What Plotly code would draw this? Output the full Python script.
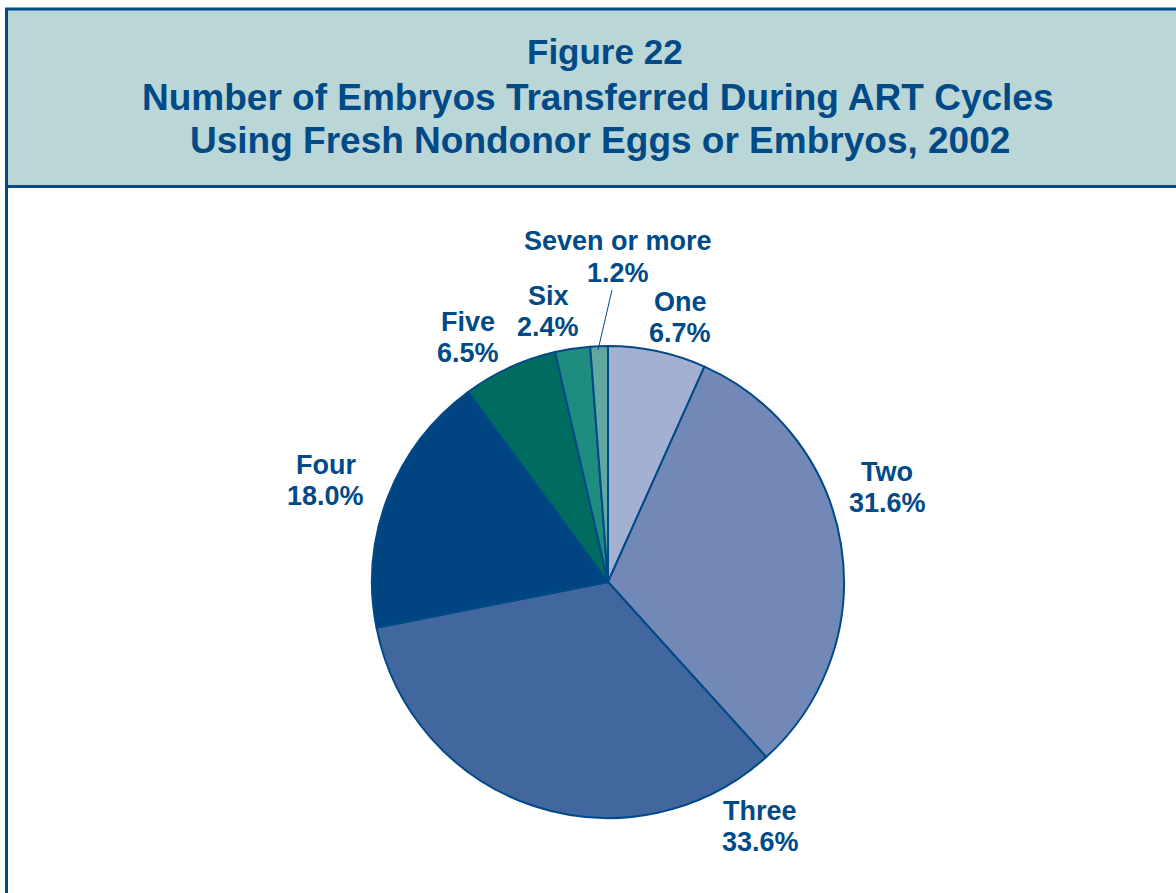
import plotly.graph_objects as go

categories = ["One", "Two", "Three", "Four", "Five", "Six", "Seven or more"]
values = [6.7, 31.6, 33.6, 18.0, 6.5, 2.4, 1.2]
colors = ["#a3b0d1", "#7289b8", "#42679e", "#004482", "#006b5f", "#1f8c80", "#62a8a0"]
title_lines = ["Figure 22",
               "Number of Embryos Transferred During ART Cycles",
               "Using Fresh Nondonor Eggs or Embryos, 2002"]

W, H = 1176, 893
DARK = "#004a87"
FONT = "Liberation Sans, Arial"

def px(x):
    return x / W

def py(y):
    return 1 - y / H

fig = go.Figure()
fig.add_trace(go.Pie(
    labels=categories, values=values, sort=False, direction="clockwise",
    rotation=0, textinfo="none", hoverinfo="label+percent",
    marker=dict(colors=colors, line=dict(color=DARK, width=2)),
    domain=dict(x=[px(372), px(844)], y=[py(818), py(346)]),
    showlegend=False,
))

shapes = [
    dict(type="rect", xref="paper", yref="paper", x0=px(6.5), x1=px(1185),
         y0=py(9), y1=py(186.5), fillcolor="#bbd6d6", line=dict(color=DARK, width=3), layer="below"),
    dict(type="line", xref="paper", yref="paper", x0=px(6.5), x1=px(6.5),
         y0=py(186), y1=py(900), line=dict(color=DARK, width=3)),
    dict(type="line", xref="paper", yref="paper", x0=px(612), x1=px(598),
         y0=py(290), y1=py(350), line=dict(color=DARK, width=1)),
]

annotations = []
title_pos = [(605, 52, 35), (598, 97, 37), (600, 140, 37)]
for t, (x, y, s) in zip(title_lines, title_pos):
    annotations.append(dict(text=f"<b>{t}</b>", x=px(x), y=py(y), xref="paper", yref="paper",
                            showarrow=False, xanchor="center", yanchor="middle",
                            font=dict(family=FONT, size=s, color=DARK)))

label_pos = {
    "One": (680, 317),
    "Two": (887, 487),
    "Three": (760, 826),
    "Four": (326, 480),
    "Five": (468, 337),
    "Six": (548, 311),
    "Seven or more": (618, 257),
}
for c, v in zip(categories, values):
    x, y = label_pos[c]
    for t, dy in ((c, -15.5), (f"{v:.1f}%", 15.5)):
        annotations.append(dict(text=f"<b>{t}</b>", x=px(x), y=py(y + dy), xref="paper", yref="paper",
                                showarrow=False, xanchor="center", yanchor="middle",
                                font=dict(family=FONT, size=27, color=DARK)))

fig.update_layout(
    width=W, height=H, margin=dict(l=0, r=0, t=0, b=0),
    paper_bgcolor="white", plot_bgcolor="white",
    shapes=shapes, annotations=annotations,
)
fig.write_html("out.html", config={"displayModeBar": False},
               post_script="document.body.style.margin='0';document.body.style.overflow='hidden';")
